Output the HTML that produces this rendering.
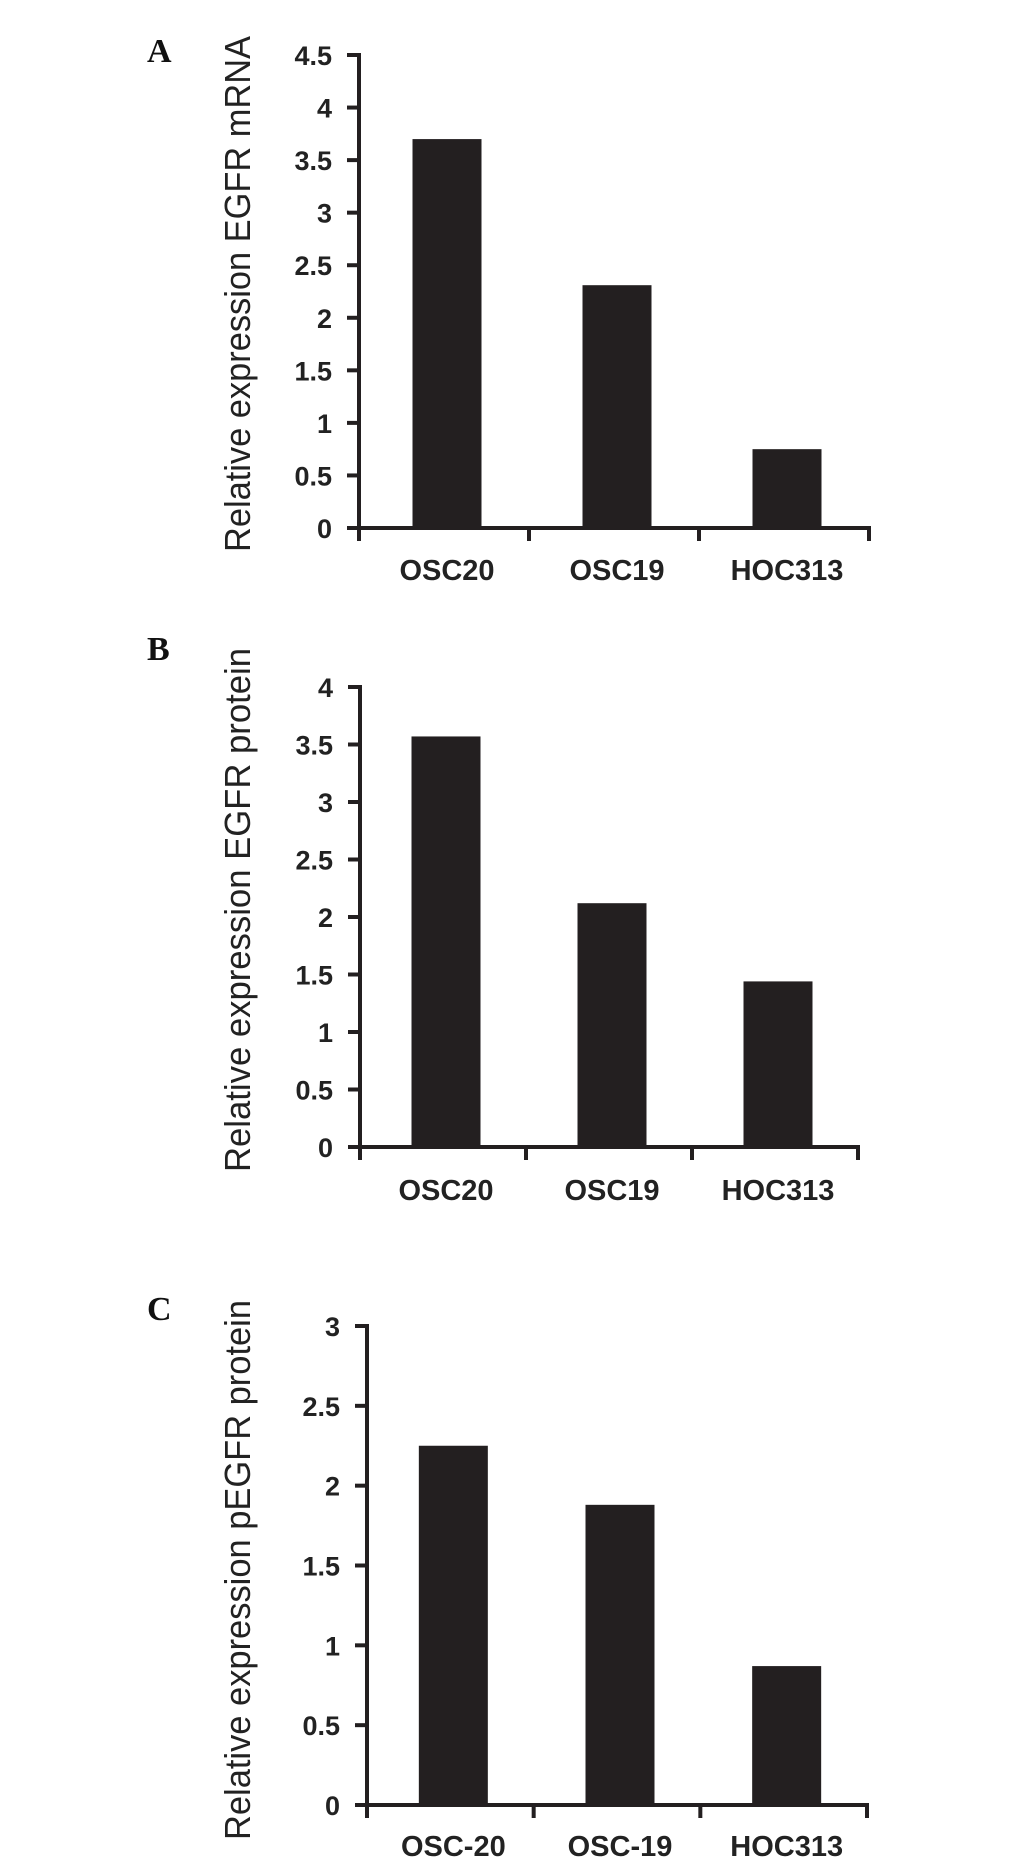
<!DOCTYPE html>
<html><head><meta charset="utf-8"><style>
html,body{margin:0;padding:0;background:#fff;}
svg{display:block;}
.tk{font-family:"Liberation Sans Narrow","Liberation Sans",sans-serif;font-weight:bold;font-size:27px;fill:#222;}
.cat{font-family:"Liberation Sans Narrow","Liberation Sans",sans-serif;font-weight:bold;font-size:29px;fill:#222;}
.ttl{font-family:"Liberation Sans",sans-serif;font-size:36px;fill:#222;}
.pl{font-family:"Liberation Serif",serif;font-weight:bold;font-size:34px;fill:#111;}
</style></head><body>
<svg id="fig" width="1033" height="1858" viewBox="0 0 1033 1858" xmlns="http://www.w3.org/2000/svg"></svg>
<script>
const catsA = ["OSC20","OSC19","HOC313"];
const valsA = [3.70,2.31,0.75];
const ticksA = ["0","0.5","1","1.5","2","2.5","3","3.5","4","4.5"];
const catsB = ["OSC20","OSC19","HOC313"];
const valsB = [3.57,2.12,1.44];
const ticksB = ["0","0.5","1","1.5","2","2.5","3","3.5","4"];
const catsC = ["OSC-20","OSC-19","HOC313"];
const valsC = [2.25,1.88,0.87];
const ticksC = ["0","0.5","1","1.5","2","2.5","3"];

const NS="http://www.w3.org/2000/svg";
const svg=document.getElementById('fig');
function mk(tag,attrs,parent){const e=document.createElementNS(NS,tag);for(const k in attrs)e.setAttribute(k,attrs[k]);(parent||svg).appendChild(e);return e;}

function chart(cfg){
  const g=mk('g',{});
  
  
  const max=parseFloat(cfg.ticks[cfg.ticks.length-1]);
  const y=v=>cfg.y0-(cfg.y0-cfg.yTop)*v/max;
  const n=cfg.cats.length;
  const bw=(cfg.xEnd-cfg.x0)/n;
  const x=i=>cfg.x0+bw*i;
  cfg.vals.forEach((v,i)=>{
    const cx=x(i)+bw/2+3;
    const r=mk('rect',{x:cx-34.5,y:y(v),width:69,height:cfg.y0-y(v),fill:'#231f20'},g);
    
    
    const t=mk('text',{x:cx,y:cfg.labY,'text-anchor':'middle',class:'cat'},g);
    t.textContent=cfg.cats[i];
    
    
  });
  const ya=mk('line',{x1:cfg.x0,y1:cfg.yTop-2,x2:cfg.x0,y2:cfg.y0+2,stroke:'#231f20','stroke-width':4},g);
  
  
  cfg.ticks.forEach(tv=>{
    const v=parseFloat(tv), yy=y(v);
    mk('line',{x1:cfg.x0-12,y1:yy,x2:cfg.x0,y2:yy,stroke:'#231f20','stroke-width':4},g);
    const t=mk('text',{x:cfg.x0-27,y:yy+10,'text-anchor':'end',class:'tk'},g);
    t.textContent=tv;
    
    
  });
  const xa=mk('line',{x1:cfg.x0-2,y1:cfg.y0,x2:cfg.xEnd+2,y2:cfg.y0,stroke:'#231f20','stroke-width':4},g);
  
  
  for(let i=0;i<=n;i++){
    mk('line',{x1:x(i),y1:cfg.y0,x2:x(i),y2:cfg.y0+13,stroke:'#231f20','stroke-width':4},g);
  }
  const tt=mk('text',{x:0,y:0,class:'ttl','text-anchor':'middle',textLength:cfg.tLen,lengthAdjust:'spacingAndGlyphs',transform:`translate(250,${cfg.tY}) rotate(-90)`},g);
  tt.textContent=cfg.title;
  
  
  const pl=mk('text',{x:147,y:cfg.pY,class:'pl'},g);
  pl.textContent=cfg.panel;
  
  
}
chart({name:'chart-a-egfr-mrna',cats:catsA,vals:valsA,ticks:ticksA,x0:359,xEnd:869,yTop:55,y0:528,labY:580,title:'Relative expression EGFR mRNA',tY:294,tLen:516,panel:'A',pY:62});
chart({name:'chart-b-egfr-protein',cats:catsB,vals:valsB,ticks:ticksB,x0:360,xEnd:858,yTop:687,y0:1147,labY:1200,title:'Relative expression EGFR protein',tY:910,tLen:524,panel:'B',pY:660});
chart({name:'chart-c-pegfr-protein',cats:catsC,vals:valsC,ticks:ticksC,x0:367,xEnd:867,yTop:1326,y0:1805,labY:1856,title:'Relative expression pEGFR protein',tY:1570,tLen:540,panel:'C',pY:1320});
</script>
</body></html>
